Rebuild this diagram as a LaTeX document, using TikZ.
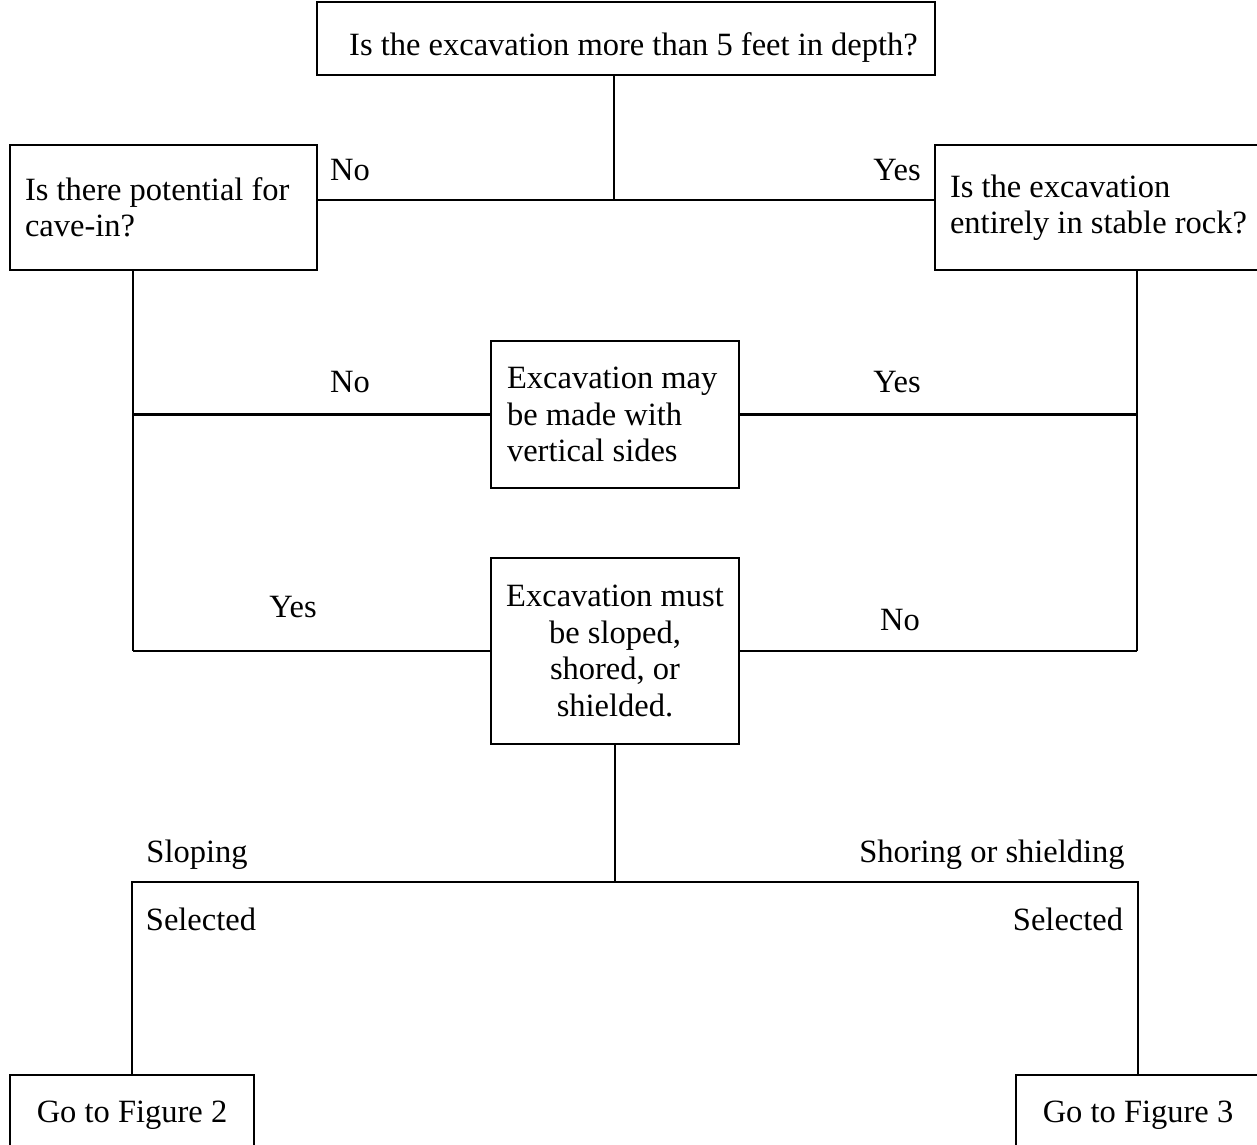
\documentclass[tikz,border=0pt]{standalone}
\usepackage{fontspec}
\setmainfont{Liberation Serif}
\begin{document}
\begin{tikzpicture}[x=0.02cm,y=-0.02cm,line width=1.4pt,
    font=\fontsize{18.5}{20.7}\selectfont,
    box/.style={draw, line width=1.4pt, inner sep=0pt, inner xsep=0.3cm},
    lbl/.style={anchor=base, inner sep=0pt}
]
\useasboundingbox (0,0) rectangle (1257,1144);
\node[box, minimum width=12.36cm, minimum height=1.46cm, text height=0.76cm, text depth=0.1cm] (depth) at (626,38.5) {\hspace*{0.3cm}Is the excavation more than 5 feet in depth?};
\node[box, minimum width=6.14cm, minimum height=2.5cm, text width=5.54cm, align=flush left] (cavein) at (163.5,207.5) {Is there potential for\\cave-in?\\[0.35cm]};
\node[box, minimum width=6.54cm, minimum height=2.5cm, text width=5.94cm, align=flush left] (rock) at (1098.5,207.5) {Is the excavation\\entirely in stable rock?\\[0.25cm]};
\node[box, minimum width=4.96cm, minimum height=2.94cm, text width=4.32cm, align=flush left] (vert) at (615,414.5) {Excavation may\\be made with\\vertical sides};
\node[box, minimum width=4.96cm, minimum height=3.72cm, align=center] (slope) at (615,651) {Excavation must\\be sloped,\\shored, or\\shielded.};
\node[box, minimum width=4.88cm, minimum height=1.62cm, align=center] (fig2) at (132,1115.5) {Go to Figure 2};
\node[box, minimum width=4.88cm, minimum height=1.62cm, align=center] (fig3) at (1138,1115.5) {Go to Figure 3};
\coordinate (split) at (614,200);
\coordinate (lbus) at (133,651);
\coordinate (rbus) at (1137,651);
\coordinate (fork) at (615,882);
\draw (split |- depth.south) -- (split);
\draw (cavein.east |- split) -- (rock.west |- split);
\draw (lbus |- cavein.south) -- (lbus);
\draw (lbus |- vert.west) -- (vert.west);
\draw (lbus) -- (slope.west);
\draw (rbus |- rock.south) -- (rbus);
\draw (rbus |- vert.east) -- (vert.east);
\draw (rbus) -- (slope.east);
\draw (slope.south) -- (fork);
\draw (fig2.north) |- (fork) -| (fig3.north);
\node[lbl] (no1) at (350,180) {No};
\node[lbl] (yes1) at (897,180) {Yes};
\node[lbl] (no2) at (350,392) {No};
\node[lbl] (yes2) at (897,392) {Yes};
\node[lbl] (yes3) at (293,617) {Yes};
\node[lbl] (no3) at (900,630) {No};
\node[lbl] (slp) at (197,862) {Sloping};
\node[lbl] (shr) at (992,862) {Shoring or shielding};
\node[lbl] (sel1) at (201,930) {Selected};
\node[lbl] (sel2) at (1068,930) {Selected};
\end{tikzpicture}
\end{document}
